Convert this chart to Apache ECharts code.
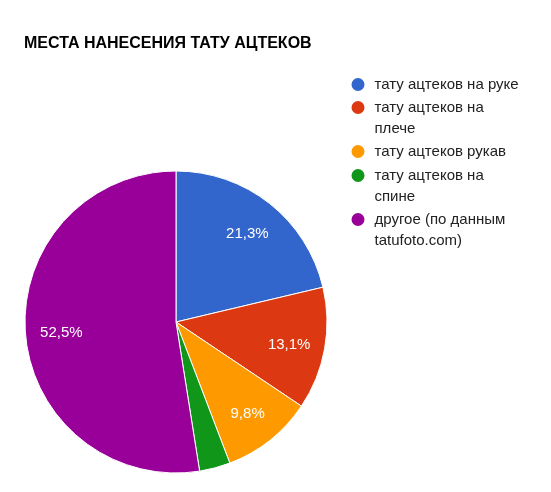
<!DOCTYPE html>
<html>
<head>
<meta charset="utf-8">
<script src="https://cdn.jsdelivr.net/npm/echarts@6/dist/echarts.min.js"></script>
<style>
html,body{margin:0;padding:0;background:#fff;}
#chart{width:551px;height:492px;}
</style>
</head>
<body>
<div id="chart"></div>
<script>
var titleText = 'МЕСТА НАНЕСЕНИЯ ТАТУ АЦТЕКОВ';
var categories = ['тату ацтеков на руке', 'тату ацтеков на плече', 'тату ацтеков рукав', 'тату ацтеков на спине', 'другое (по данным tatufoto.com)'];
var legendLabels = ['тату ацтеков на руке', 'тату ацтеков на\nплече', 'тату ацтеков рукав', 'тату ацтеков на\nспине', 'другое (по данным\ntatufoto.com)'];
var values = [21.3, 13.1, 9.8, 3.3, 52.5];
var colors = ['#3366cc', '#dc3912', '#ff9900', '#109618', '#990099'];

var FONT = '"Liberation Sans", Arial, sans-serif';
var chart = echarts.init(document.getElementById('chart'), null, {renderer: 'canvas'});

var pieData = categories.map(function (c, i) {
  return {name: c, value: values[i], itemStyle: {color: colors[i]}};
});
var labelData = categories.map(function (c, i) {
  return {name: c, value: values[i]};
});

// layout: icon centre y for each legend entry
var legendIconY = [84.5, 107.5, 151.5, 175.5, 219.5];
var LINE_H = 21;
var legends = categories.map(function (c, i) {
  var lines = legendLabels[i].split('\n');
  var txt = lines.length > 1 ? '\n' + legendLabels[i] : legendLabels[i];
  var half = lines.length > 1 ? LINE_H * 1.5 : LINE_H / 2;
  return {
    orient: 'vertical',
    left: 349.5,
    top: legendIconY[i] - half,
    padding: 0,
    itemWidth: 15,
    itemHeight: 15,
    icon: 'circle',
    data: [c],
    formatter: function () { return txt; },
    textStyle: {fontFamily: FONT, fontSize: 15, color: '#222222', lineHeight: LINE_H, padding: [0, 0, 0, 4]}
  };
});

chart.setOption({
  animation: false,
  backgroundColor: '#ffffff',
  title: {
    text: titleText,
    left: 24,
    top: 36,
    padding: 0,
    textStyle: {fontFamily: FONT, fontSize: 16, fontWeight: 'bold', color: '#000000'}
  },
  legend: legends,
  series: [
    {
      type: 'pie',
      center: [176, 322],
      radius: [0, 151],
      startAngle: 90,
      clockwise: true,
      silent: true,
      label: {show: false},
      labelLine: {show: false},
      itemStyle: {borderColor: '#ffffff', borderWidth: 1},
      emphasis: {disabled: true},
      data: pieData
    },
    {
      type: 'pie',
      center: [176, 322],
      radius: [73, 151],
      startAngle: 90,
      clockwise: true,
      silent: true,
      minShowLabelAngle: 20,
      itemStyle: {color: 'rgba(0,0,0,0)', borderWidth: 0},
      emphasis: {disabled: true},
      labelLine: {show: false},
      label: {
        show: true,
        position: 'inside',
        offset: [0, 2],
        color: '#ffffff',
        fontFamily: FONT,
        fontSize: 15,
        formatter: function (p) {
          return p.value.toFixed(1).replace('.', ',') + '%';
        }
      },
      data: labelData
    }
  ]
});
</script>
</body>
</html>
